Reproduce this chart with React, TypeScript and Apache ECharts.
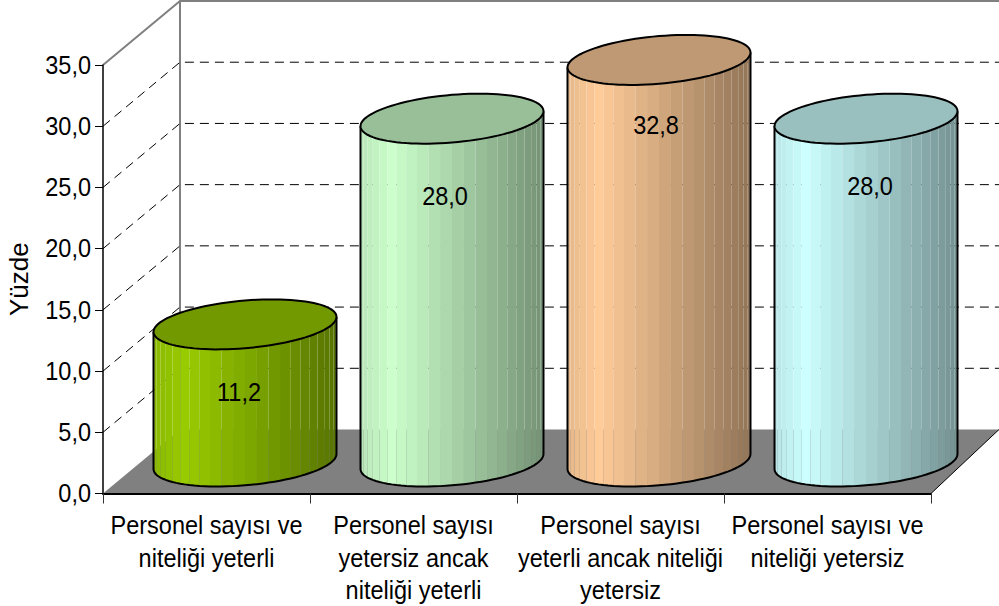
import React, { useEffect, useRef } from "react";
import * as echarts from "echarts";

const categories = [
  "Personel sayısı ve\nniteliği yeterli",
  "Personel sayısı\nyetersiz ancak\nniteliği yeterli",
  "Personel sayısı\nyeterli ancak niteliği\nyetersiz",
  "Personel sayısı ve\nniteliği yetersiz",
];
const values = [11.2, 28.0, 32.8, 28.0];
const yTicks = [0, 5, 10, 15, 20, 25, 30, 35];
const colors = [
  [153, 204, 0],
  [204, 255, 204],
  [255, 204, 153],
  [204, 255, 255],
];
const labelOffsets = [
  [-6, 68],
  [-7, 78],
  [-3, 65],
  [4, 68],
];

const FONT = "'Liberation Sans', Arial, sans-serif";
const DX = 77;
const DY = -64;
const STRIPS = 24;
const C_TILT = -7.5;
const B_RAD = 23.85;
const MAX_X = 999;
const TEXT_SCALE = 0.94;
const LINE_PITCH = 32.5;

const fmt = (v: number) => v.toFixed(1).replace(".", ",");
const rgb = (c: number[], f: number) =>
  `rgb(${Math.round(c[0] * f)},${Math.round(c[1] * f)},${Math.round(c[2] * f)})`;
const shade = (u: number) =>
  u < 0.17 ? 0.9 + (0.1 * u) / 0.17 : 1 - (0.43 * (u - 0.17)) / 0.83;

const squeezedText = (text: string, x: number, y: number, align: string) => ({
  type: "text",
  x,
  y,
  scaleX: TEXT_SCALE,
  style: {
    text,
    x: 0,
    y: 0,
    fill: "#000",
    font: `25px ${FONT}`,
    align,
    verticalAlign: "middle",
  },
});

function renderWalls(_: any, api: any) {
  const band = api.size([1, 0])[0];
  const left = api.coord([0, 0])[0] - band / 2;
  const right = api.coord([3, 0])[0] + band / 2;
  const y0 = api.coord([0, 0])[1];
  const y35 = api.coord([0, 35])[1];
  const backL = left + DX;
  const floorY = y0 + DY;
  const children: any[] = [
    {
      type: "polygon",
      shape: {
        points: [
          [left, y0],
          [right, y0],
          [MAX_X, floorY],
          [backL, floorY],
        ],
      },
      style: { fill: "#808080" },
    },
    {
      type: "polyline",
      shape: { points: [[left, y35], [backL, y35 + DY], [MAX_X, y35 + DY]] },
      style: { fill: "none", stroke: "#808080", lineWidth: 2 },
    },
    {
      type: "line",
      shape: { x1: backL, y1: y35 + DY, x2: backL, y2: floorY },
      style: { stroke: "#808080", lineWidth: 2 },
    },
    {
      type: "line",
      shape: { x1: right, y1: y0, x2: MAX_X, y2: floorY },
      style: { stroke: "#000", lineWidth: 1 },
    },
  ];
  yTicks.slice(1, -1).forEach((v) => {
    const y = api.coord([0, v])[1];
    children.push({
      type: "polyline",
      shape: { points: [[left, y], [backL, y + DY], [MAX_X, y + DY]] },
      style: { fill: "none", stroke: "#000", lineWidth: 1, lineDash: [9, 6] },
    });
  });
  return { type: "group", children };
}

function renderBar(params: any, api: any) {
  const idx = api.value(0);
  const val = api.value(1);
  const top = api.coord([idx, val]);
  const base = api.coord([idx, 0]);
  const band = api.size([1, 0])[0];
  const A = band * 0.442;
  const cx = top[0] + DX / 2;
  const yTop = top[1] + DY / 2;
  const yBase = base[1] + DY / 2;
  const col = colors[params.dataIndex];
  const pt = (t: number, y: number) => [
    cx + A * Math.cos(t),
    y + B_RAD * Math.sin(t) + C_TILT * Math.cos(t),
  ];
  const children: any[] = [];
  for (let i = 0; i < STRIPS; i++) {
    const t0 = Math.PI - (Math.PI * i) / STRIPS;
    const t1 = Math.PI - (Math.PI * (i + 1)) / STRIPS;
    const tops: number[][] = [];
    const bots: number[][] = [];
    for (let k = 0; k <= 4; k++) {
      const t = t0 + ((t1 - t0) * k) / 4;
      tops.push(pt(t, yTop));
      bots.push(pt(t, yBase));
    }
    const u = (i + 0.5) / STRIPS;
    const ux = (1 - Math.cos(Math.PI * u)) / 2;
    children.push({
      type: "polygon",
      shape: { points: [...tops, ...bots.reverse()] },
      style: { fill: rgb(col, shade(ux)) },
    });
  }
  const outline: number[][] = [];
  for (let k = 0; k <= 48; k++) outline.push(pt(Math.PI - (Math.PI * k) / 48, yBase));
  children.push({
    type: "polyline",
    shape: { points: [pt(Math.PI, yTop), ...outline, pt(0, yTop)] },
    style: { fill: "none", stroke: "#000", lineWidth: 2 },
  });
  const ell: number[][] = [];
  for (let k = 0; k < 96; k++) ell.push(pt((2 * Math.PI * k) / 96, yTop));
  children.push({
    type: "polygon",
    shape: { points: ell },
    style: { fill: rgb(col, 0.75), stroke: "#000", lineWidth: 2 },
  });
  const off = labelOffsets[params.dataIndex];
  children.push(squeezedText(fmt(val), cx + off[0], yTop + off[1], "center"));
  return { type: "group", children };
}

function renderTickLabels(_: any, api: any) {
  const children: any[] = [];
  const axisX = api.coord([0, 0])[0] - api.size([1, 0])[0] / 2;
  const y0 = api.coord([0, 0])[1];
  yTicks.forEach((v) => {
    const y = api.coord([0, v])[1];
    children.push(squeezedText(fmt(v), axisX - 12, y, "right"));
  });
  categories.forEach((c, i) => {
    const x = api.coord([i, 0])[0];
    c.split("\n").forEach((line, k) => {
      children.push(squeezedText(line, x, y0 + 32 + k * LINE_PITCH, "center"));
    });
  });
  return { type: "group", children };
}

export default function App() {
  const ref = useRef<HTMLDivElement>(null);
  useEffect(() => {
    document.body.style.margin = "0";
    const chart = echarts.init(ref.current!, null, { renderer: "svg" });
    chart.setOption({
      animation: false,
      backgroundColor: "#fff",
      textStyle: { fontFamily: FONT },
      grid: { left: 103, right: 68, top: 65, bottom: 112.5, containLabel: false, outerBoundsMode: "none" },
      xAxis: {
        type: "category",
        data: categories,
        axisLine: { show: true, lineStyle: { color: "#000", width: 2 } },
        axisTick: { show: true, length: 10, alignWithLabel: false, lineStyle: { color: "#333", width: 1 } },
        axisLabel: { show: false },
        splitLine: { show: false },
      },
      yAxis: {
        type: "value",
        min: 0,
        max: 35,
        interval: 5,
        name: "Yüzde",
        nameLocation: "middle",
        nameGap: 71,
        nameTextStyle: { color: "#000", fontSize: 26, fontFamily: FONT },
        axisLine: { show: true, lineStyle: { color: "#000", width: 1.5 } },
        axisTick: { show: true, length: 8, lineStyle: { color: "#000", width: 1 } },
        axisLabel: { show: false },
        splitLine: { show: false },
      },
      series: [
        {
          type: "custom",
          z: -1,
          silent: true,
          renderItem: renderWalls,
          data: [[0, 0]],
          encode: { x: 0, y: 1 },
        },
        {
          type: "custom",
          z: 3,
          silent: true,
          renderItem: renderBar,
          data: values.map((v, i) => [i, v]),
          encode: { x: 0, y: 1 },
        },
        {
          type: "custom",
          z: 4,
          silent: true,
          renderItem: renderTickLabels,
          data: [[0, 0]],
          encode: { x: 0, y: 1 },
        },
      ],
    });
    return () => chart.dispose();
  }, []);
  return <div ref={ref} style={{ width: 999, height: 606 }} />;
}
